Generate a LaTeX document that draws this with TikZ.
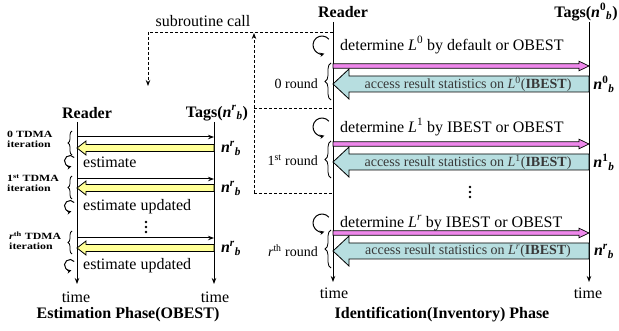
\documentclass[tikz,border=0pt]{standalone}
\usepackage{fontspec}
\setmainfont{Liberation Serif}
\usetikzlibrary{arrows.meta,decorations.pathreplacing}
\definecolor{pinkc}{RGB}{238,135,235}
\definecolor{bluec}{RGB}{183,222,224}
\definecolor{yelc}{RGB}{255,255,150}
\tikzset{
  life/.style={line width=1pt,-{Stealth[length=6pt,width=4.5pt]}},
  msg/.style={line width=1pt,-{Stealth[length=6pt,width=4.5pt]}},
  dsh/.style={line width=0.9pt,dash pattern=on 3pt off 2pt},
  dsharr/.style={dsh,-{Stealth[length=6pt,width=4.5pt]}},
  big/.style={font=\fontsize{16}{19}\selectfont,inner sep=0pt},
  bigb/.style={font=\fontsize{16}{19}\selectfont\bfseries,inner sep=0pt},
  mid/.style={font=\fontsize{14}{16}\selectfont,inner sep=0pt},
  acc/.style={font=\fontsize{14}{16}\selectfont,inner sep=0pt,text=black!78},
  tdma/.style={font=\fontsize{9.5}{8}\selectfont\bfseries,inner sep=0pt,anchor=base west},
  loopy/.style={line width=1pt,-{Stealth[length=4.5pt,width=4.5pt]}},
  brc/.style={decorate,decoration={brace,amplitude=#1},line width=0.8pt},
  pinkbar/.style={fill=pinkc,draw=black,line width=0.7pt},
  bluebar/.style={fill=bluec,draw=black,line width=0.8pt},
  yelbar/.style={fill=yelc,draw=black,line width=0.8pt},
}
\newcommand\nlab[1]{\textbf{\textit{n}}\textsuperscript{\textbf{#1}}\textsubscript{\textbf{\textit{b}}}}
% pink arrow: from x1 to tip x2 at y
\newcommand\pinkarr[3]{\filldraw[pinkbar] (#1,#3-2.2) -- (#2-10,#3-2.2) -- (#2-10,#3-4.8) -- (#2,#3) -- (#2-10,#3+4.8) -- (#2-10,#3+2.2) -- (#1,#3+2.2) -- cycle;}
% blue block arrow: tip x1, tail x2, y
\newcommand\bluearr[3]{\filldraw[bluebar] (#1,#3) -- (#1+16,#3-15) -- (#1+16,#3-8) -- (#2,#3-8) -- (#2,#3+8) -- (#1+16,#3+8) -- (#1+16,#3+15) -- cycle;}
% yellow block arrow: tip x1, tail x2, y
\newcommand\yelarr[3]{\filldraw[yelbar] (#1,#3) -- (#1+9,#3-7) -- (#1+9,#3-3.5) -- (#2,#3-3.5) -- (#2,#3+3.5) -- (#1+9,#3+3.5) -- (#1+9,#3+7) -- cycle;}
% loop arrow: centre x, y, radius
\newcommand\looparr[3]{\draw[loopy] (#1,#2) ++(-40:#3) arc[start angle=-40,end angle=-285,radius=#3];}
\begin{document}
\begin{tikzpicture}[x=1pt,y=-1pt]
\useasboundingbox (0,0) rectangle (619,331);
% ---------- lifelines ----------
\coordinate (lr0) at (77,122);  \coordinate (lr1) at (77,284);
\coordinate (lt0) at (214,122); \coordinate (lt1) at (214,284);
\coordinate (rr0) at (333,22);  \coordinate (rr1) at (333,282);
\coordinate (rt0) at (589,22);  \coordinate (rt1) at (589,282);
\draw[life] (lr0) -- (lr1);
\draw[life] (lt0) -- (lt1);
\draw[life] (rr0) -- (rr1);
\draw[life] (rt0) -- (rt1);
% ---------- headers ----------
\node[bigb] (lreader) at (87,113) {Reader};
\node[bigb] (ltags) at (217,113) {Tags(\nlab{\textit{r}})};
\node[bigb] (rreader) at (343,12) {Reader};
\node[bigb] (rtags) at (586,12) {Tags(\nlab{0})};
\node[big] (lt1t) at (76,297) {time};
\node[big] (lt2t) at (215,297) {time};
\node[big] (rt1t) at (334,293) {time};
\node[big] (rt2t) at (588,293) {time};
\node[bigb] (ltitle) at (128,315) {Estimation Phase(OBEST)};
\node[bigb] (rtitle) at (442,315) {Identification(Inventory) Phase};
% ---------- subroutine call ----------
\node[big] (sub) at (203,21) {subroutine call};
\coordinate (d1) at (148,32); \coordinate (d2) at (148,86);
\coordinate (d3) at (333,32); \coordinate (d4) at (254,193);
\coordinate (d5) at (254,33); \coordinate (d6) at (254,108);
\coordinate (d7) at (333,108); \coordinate (d8) at (333,193);
\draw[dsh] (d3) -- (d1);
\draw[dsharr] (d1) -- (d2);
\draw[dsharr] (d4) -- (d5);
\draw[dsh] (d6) -- (d7);
\draw[dsh] (d4) -- (d8);
% ---------- left: estimation phase ----------
\foreach \ya/\yb in {137/148,179/188,238/248}{
  \draw[msg] (77,\ya) -- (214,\ya);
  \yelarr{77}{214}{\yb}
  \node[big] at (231,\yb) {\nlab{\textit{r}}};
}
\node[tdma] (t0a) at (7,138) {\scalebox{1.25}[1]{0 TDMA}};
\node[tdma] (t0b) at (7,148) {\scalebox{1.25}[1]{iteration}};
\node[tdma] (t1a) at (7,182) {\scalebox{1.25}[1]{1\textsuperscript{st} TDMA}};
\node[tdma] (t1b) at (7,192) {\scalebox{1.25}[1]{iteration}};
\node[tdma] (t2a) at (9,240) {\scalebox{1.25}[1]{\textit{r}\textsuperscript{th} TDMA}};
\node[tdma] (t2b) at (9,250) {\scalebox{1.25}[1]{iteration}};
\draw[brc=4pt] (72,155) -- (72,131);
\draw[brc=4pt] (72,199) -- (72,176);
\draw[brc=4pt] (72,254) -- (72,231);
\looparr{70}{161}{5.5}
\looparr{70}{206}{5.5}
\looparr{70}{265}{5.5}
\node[big,anchor=west] (est0) at (83,162) {estimate};
\node[big,anchor=west] (est1) at (83,207) {estimate updated};
\node[big,anchor=west] (est2) at (83,266) {estimate updated};
\foreach \yy in {222,227,232}{\fill (146,\yy) circle (1.4);}
% ---------- right: identification phase ----------
\looparr{322}{45}{9}
\looparr{322}{127}{9}
\looparr{322}{223}{9}
\node[big,anchor=west] (det0) at (340,45) {determine \textit{L}\textsuperscript{0} by default or OBEST};
\node[big,anchor=west] (det1) at (340,127) {determine \textit{L}\textsuperscript{1} by IBEST or OBEST};
\node[big,anchor=west] (det2) at (340,223) {determine \textit{L}\textsuperscript{\textit{r}} by IBEST or OBEST};
\pinkarr{333}{589}{66}
\pinkarr{333}{589}{144}
\pinkarr{333}{589}{233}
\bluearr{333}{589}{84}
\bluearr{333}{589}{162}
\bluearr{333}{589}{251}
\node[acc] (a0) at (468,84) {access result statistics on \textit{L}\textsuperscript{0}(\textbf{IBEST})};
\node[acc] (a1) at (468,162) {access result statistics on \textit{L}\textsuperscript{1}(\textbf{IBEST})};
\node[acc] (a2) at (468,251) {access result statistics on \textit{L}\textsuperscript{\textit{r}}(\textbf{IBEST})};
\node[big] (n0) at (604,84) {\nlab{0}};
\node[big] (n1) at (604,162) {\nlab{1}};
\node[big] (n2) at (604,251) {\nlab{\textit{r}}};
\node[mid,anchor=east] (r0) at (318,84) {0 round};
\node[mid,anchor=east] (r1) at (318,160) {1\textsuperscript{st} round};
\node[mid,anchor=east] (r2) at (318,251) {\textit{r}\textsuperscript{th} round};
\draw[brc=6pt] (331,100) -- (331,63);
\draw[brc=6pt] (331,178) -- (331,141);
\draw[brc=6pt] (331,268) -- (331,230);
\foreach \yy in {187,192,197}{\fill (470,\yy) circle (1.4);}
\end{tikzpicture}
\end{document}
